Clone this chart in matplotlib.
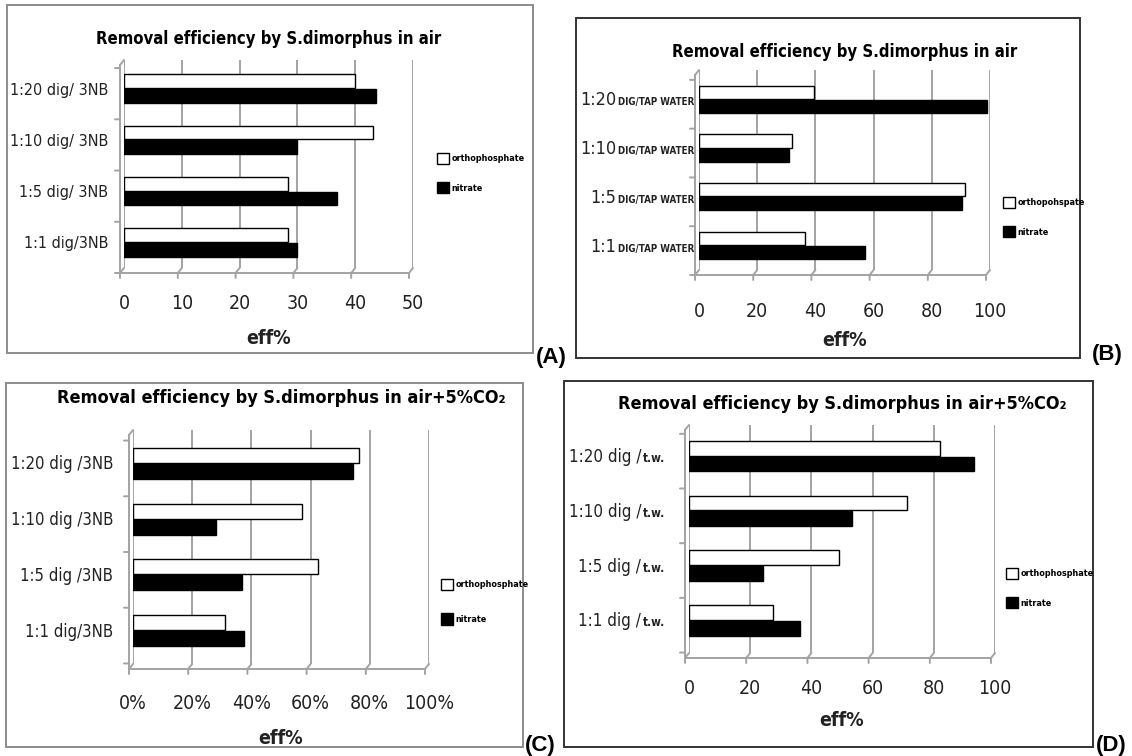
import matplotlib
matplotlib.use('Agg')
import numpy as np
import matplotlib.pyplot as plt
import matplotlib.transforms as mtransforms
from matplotlib.patches import Rectangle, Patch
from matplotlib import font_manager as fm

W, H, DPI = 1132, 756, 100

# use the condensed DejaVu face when present
has_cond = any(f.name == 'DejaVu Sans' and str(f.stretch) == 'condensed'
               for f in fm.fontManager.ttflist)
plt.rcParams['font.family'] = ['DejaVu Sans']
plt.rcParams['font.stretch'] = 'condensed' if has_cond else 'normal'

# ---------------- data ----------------
categories = ['1:1', '1:5', '1:10', '1:20']

a_ortho = [28.4, 28.3, 43.1, 40.0]
a_nitrate = [30.0, 36.9, 30.0, 43.6]
a_ticks = [0, 10, 20, 30, 40, 50]
a_ticklabels = ['0', '10', '20', '30', '40', '50']
a_labels = [[('1:1 dig/3NB', 11.5, 'normal')], [('1:5 dig/ 3NB', 11.5, 'normal')],
            [('1:10 dig/ 3NB', 11.5, 'normal')], [('1:20 dig/ 3NB', 11.5, 'normal')]]

b_ortho = [36.4, 91.3, 32.0, 39.5]
b_nitrate = [57.0, 90.4, 31.0, 99.0]
b_ticks = [0, 20, 40, 60, 80, 100]
b_ticklabels = ['0', '20', '40', '60', '80', '100']
b_labels = [[('1:1', 13, 'normal'), ('DIG/TAP WATER', 7, 'bold')],
            [('1:5', 13, 'normal'), ('DIG/TAP WATER', 7, 'bold')],
            [('1:10', 13, 'normal'), ('DIG/TAP WATER', 7, 'bold')],
            [('1:20', 13, 'normal'), ('DIG/TAP WATER', 7, 'bold')]]

c_ortho = [31.0, 62.4, 57.0, 76.5]
c_nitrate = [37.6, 36.9, 28.0, 74.3]
c_ticks = [0, 20, 40, 60, 80, 100]
c_ticklabels = ['0%', '20%', '40%', '60%', '80%', '100%']
c_labels = [[('1:1 dig/3NB', 12, 'normal')], [('1:5 dig /3NB', 12, 'normal')],
            [('1:10 dig /3NB', 12, 'normal')], [('1:20 dig /3NB', 12, 'normal')]]

d_ortho = [27.5, 49.0, 71.3, 82.0]
d_nitrate = [36.4, 24.3, 53.3, 93.0]
d_ticks = [0, 20, 40, 60, 80, 100]
d_ticklabels = ['0', '20', '40', '60', '80', '100']
d_labels = [[('1:1 dig /', 12.2, 'normal'), ('t.w.', 8.5, 'bold')],
            [('1:5 dig /', 12.2, 'normal'), ('t.w.', 8.5, 'bold')],
            [('1:10 dig /', 12.2, 'normal'), ('t.w.', 8.5, 'bold')],
            [('1:20 dig /', 12.2, 'normal'), ('t.w.', 8.5, 'bold')]]

title_air = 'Removal efficiency by S.dimorphus in air'
title_co2 = 'Removal efficiency by S.dimorphus in air+5%CO\u2082'

fig = plt.figure(figsize=(W / DPI, H / DPI), dpi=DPI)
fig.patch.set_facecolor('white')

GRID = '#a3a3a3'
PT = 72.0 / DPI  # points per pixel


def fig_rect(x0, y0, x1, y1):
    return [x0 / W, 1 - y1 / H, (x1 - x0) / W, (y1 - y0) / H]


def panel(box, box_color, axpx, ylim, xmax, ticks, ticklabels, ortho, nitrate,
          labels, label_gap, title, title_y, title_fs, tick_y, eff_y, leg_x, leg_y, leg_sp,
          leg_names, letter, letter_xy, tick_fs=14):
    bx0, by0, bx1, by1 = box
    fig.patches.append(Rectangle((bx0 / W, 1 - by1 / H), (bx1 - bx0) / W, (by1 - by0) / H,
                                 transform=fig.transFigure, fill=False,
                                 edgecolor=box_color, lw=1.4))
    ax = fig.add_axes(fig_rect(*axpx))
    ax.set_xlim(0, xmax)
    ax.set_ylim(*ylim)
    for s in ax.spines.values():
        s.set_visible(False)
    ax.set_facecolor('none')
    ylo, yhi = ylim
    off = mtransforms.ScaledTranslation(-4 / DPI, -5 / DPI, fig.dpi_scale_trans)
    tr = ax.transData + off
    ax.vlines(ticks, ylo, yhi, color=GRID, lw=1.4, zorder=0)
    ax.plot([0, xmax], [ylo, ylo], transform=tr, color=GRID, lw=1.4, clip_on=False)
    ax.plot([0, 0], [ylo, yhi], transform=tr, color=GRID, lw=1.4, clip_on=False)
    arr = dict(arrowstyle='-', color=GRID, lw=1.4, shrinkA=0, shrinkB=0)
    for t in ticks:
        ax.annotate('', xy=(t, ylo), xycoords='data', xytext=(-4 * PT, -5 * PT),
                    textcoords='offset points', arrowprops=arr)
        ax.annotate('', xy=(t, ylo), xycoords=tr, xytext=(0, -5 * PT),
                    textcoords='offset points', arrowprops=arr)
    ax.annotate('', xy=(0, yhi), xycoords='data', xytext=(-4 * PT, -5 * PT),
                textcoords='offset points', arrowprops=arr)
    for b in np.arange(-0.5, 3.6, 1.0):
        ax.annotate('', xy=(0, b), xycoords=tr, xytext=(-5 * PT, 0),
                    textcoords='offset points', arrowprops=arr)
    y = np.arange(len(categories))
    h = 0.27
    ax.barh(y + 0.145, ortho, height=h, color='white', edgecolor='black', lw=1.0, zorder=3)
    ax.barh(y - 0.145, nitrate, height=h, color='black', edgecolor='black', lw=1.0, zorder=3)
    ax.set_xticks(ticks)
    ax.set_xticklabels(ticklabels, fontsize=tick_fs, color='#222222')
    fs_px = tick_fs / PT
    pad_px = tick_y - axpx[3] - 0.55 * fs_px
    ax.tick_params(axis='x', length=0, pad=pad_px * PT)
    ax.set_yticks([])
    for yi, parts in zip(y, labels):
        prev = None
        for text, fs, wt in reversed(parts):
            if prev is None:
                prev = ax.annotate(text, xy=(0, yi), xycoords=('axes fraction', 'data'),
                                   xytext=(-label_gap * PT, -6 * PT), textcoords='offset points',
                                   ha='right', va='baseline', fontsize=fs, fontweight=wt,
                                   color='#222222')
            else:
                prev = ax.annotate(text, xy=(0, yi), xycoords=(prev, 'data'),
                                   xytext=(-1.5 * PT, -6 * PT), textcoords='offset points',
                                   ha='right', va='baseline', fontsize=fs, fontweight=wt,
                                   color='#222222')
    cx = (axpx[0] + axpx[2]) / 2
    fig.text(cx / W, 1 - title_y / H, title, ha='center', va='center', fontsize=title_fs,
             fontweight='bold', color='black')
    fig.text(cx / W, 1 - eff_y / H, 'eff%', ha='center', va='center', fontsize=14,
             fontweight='bold', color='#222222')
    handles = [Patch(facecolor='white', edgecolor='black', lw=1.0),
               Patch(facecolor='black', edgecolor='black', lw=1.0)]
    leg = fig.legend(handles, leg_names, loc='upper left',
                     bbox_to_anchor=(leg_x / W, 1 - (leg_y - 10) / H),
                     frameon=False, fontsize=6.5, handlelength=1.3, handleheight=1.5,
                     handletextpad=0.3, labelspacing=leg_sp, borderpad=0, borderaxespad=0)
    for t in leg.get_texts():
        t.set_fontweight('bold')
    fig.text(letter_xy[0] / W, 1 - letter_xy[1] / H, letter, ha='left', va='center',
             fontsize=16, fontweight='bold', family=['Liberation Sans', 'DejaVu Sans'],
             fontstretch='normal')
    return ax


panel((7, 5, 533, 353), '#8c8c8c', (124, 60, 413, 268), (-0.5, 3.56), 50, a_ticks, a_ticklabels,
      a_ortho, a_nitrate, a_labels, 16, title_air, 39, 12, 305, 338, 437, 163, 2.0,
      ['orthophosphate', 'nitrate'], '(A)', (536, 358))

panel((576, 18, 1080, 358), '#333333', (699, 70, 990, 270), (-0.5, 3.6), 100, b_ticks, b_ticklabels,
      b_ortho, b_nitrate, b_labels, 5, title_air, 52, 12, 313, 341, 1003, 207, 2.0,
      ['orthopohspate', 'nitrate'], '(B)', (1092, 355))

panel((6, 383, 523, 747), '#8c8c8c', (133, 430, 429, 664), (-0.6, 3.6), 100, c_ticks, c_ticklabels,
      c_ortho, c_nitrate, c_labels, 20, title_co2, 398, 13, 705, 739, 441, 589, 2.6,
      ['orthophosphate', 'nitrate'], '(C)', (525, 745))

panel((564, 381, 1093, 747), '#333333', (689, 425, 995, 653), (-0.6, 3.57), 100, d_ticks, d_ticklabels,
      d_ortho, d_nitrate, d_labels, 24, title_co2, 404, 13, 690, 720, 1006, 578, 2.0,
      ['orthophosphate', 'nitrate'], '(D)', (1096, 745))

fig.savefig('out.png', dpi=DPI, facecolor='white')
